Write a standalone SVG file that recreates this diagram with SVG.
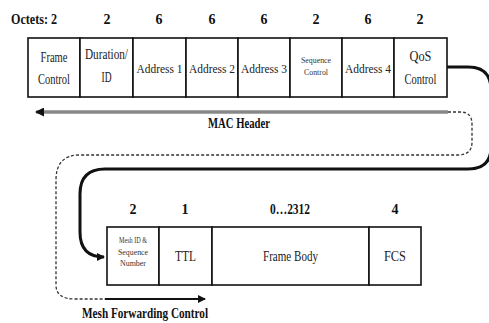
<svg xmlns="http://www.w3.org/2000/svg" width="489" height="323" viewBox="0 0 489 323">
<defs>
<style>
.box{fill:#fff;stroke:#111;stroke-width:1.6}
.t{font-family:"Liberation Serif",serif;font-size:15px;fill:#222;text-anchor:middle}
.a{font-family:"Liberation Serif",serif;font-size:13px;fill:#222;text-anchor:middle}
.s{font-family:"Liberation Serif",serif;font-size:8px;fill:#333;text-anchor:middle}
.b{font-family:"Liberation Serif",serif;font-size:14px;font-weight:bold;fill:#111;text-anchor:middle}
</style>
<marker id="ab" markerWidth="8" markerHeight="8" refX="7" refY="4" orient="auto" markerUnits="userSpaceOnUse"><path d="M0,0 L8,4 L0,8 Z" fill="#111"/></marker>
<marker id="ag" markerWidth="9" markerHeight="9" refX="8" refY="4.5" orient="auto" markerUnits="userSpaceOnUse"><path d="M0,0 L9,4.5 L0,9 Z" fill="#111"/></marker>
</defs>
<rect width="489" height="323" fill="#fff"/>

<g id="octets">
<text class="b" x="34" y="24" textLength="46" lengthAdjust="spacingAndGlyphs">Octets: 2</text>
<text class="b" x="107" y="24">2</text>
<text class="b" x="159" y="24">6</text>
<text class="b" x="212" y="24">6</text>
<text class="b" x="264" y="24">6</text>
<text class="b" x="316" y="24">2</text>
<text class="b" x="368" y="24">6</text>
<text class="b" x="420" y="24">2</text>
</g>

<g id="frame-control"><rect class="box" x="28" y="38" width="52" height="59"/><text class="t" x="54" y="62" textLength="27" lengthAdjust="spacingAndGlyphs">Frame</text><text class="t" x="54" y="84" textLength="32" lengthAdjust="spacingAndGlyphs">Control</text></g>
<g id="duration"><rect class="box" x="80" y="38" width="53" height="59"/><text class="t" x="106.5" y="59" textLength="43" lengthAdjust="spacingAndGlyphs">Duration/</text><text class="t" x="106.5" y="82" textLength="10" lengthAdjust="spacingAndGlyphs">ID</text></g>
<g id="address1"><rect class="box" x="133" y="38" width="53" height="59"/><text class="a" x="159.5" y="73" textLength="46" lengthAdjust="spacingAndGlyphs">Address 1</text></g>
<g id="address2"><rect class="box" x="186" y="38" width="52" height="59"/><text class="a" x="212" y="73" textLength="46" lengthAdjust="spacingAndGlyphs">Address 2</text></g>
<g id="address3"><rect class="box" x="238" y="38" width="52" height="59"/><text class="a" x="264" y="73" textLength="46" lengthAdjust="spacingAndGlyphs">Address 3</text></g>
<g id="sequence-control"><rect class="box" x="290" y="38" width="52" height="59"/><text class="s" x="316" y="63" textLength="30" lengthAdjust="spacingAndGlyphs">Sequence</text><text class="s" x="316" y="75" textLength="24" lengthAdjust="spacingAndGlyphs">Control</text></g>
<g id="address4"><rect class="box" x="342" y="38" width="52" height="59"/><text class="a" x="368" y="73" textLength="46" lengthAdjust="spacingAndGlyphs">Address 4</text></g>
<g id="qos-control"><rect class="box" x="394" y="38" width="53" height="59"/><text class="t" x="420.5" y="61" textLength="22" lengthAdjust="spacingAndGlyphs">QoS</text><text class="t" x="420.5" y="84" textLength="32" lengthAdjust="spacingAndGlyphs">Control</text></g>

<g id="lower-octets">
<text class="b" x="133" y="214">2</text>
<text class="b" x="185" y="214">1</text>
<text class="b" x="290" y="214" textLength="40" lengthAdjust="spacingAndGlyphs">0…2312</text>
<text class="b" x="395" y="214">4</text>
</g>

<g id="mesh-seq"><rect class="box" x="107" y="227" width="52" height="58"/><text class="s" x="133" y="243" textLength="28" lengthAdjust="spacingAndGlyphs">Mesh ID &amp;</text><text class="s" x="133" y="255" textLength="30" lengthAdjust="spacingAndGlyphs">Sequence</text><text class="s" x="133" y="266" textLength="26" lengthAdjust="spacingAndGlyphs">Number</text></g>
<g id="ttl"><rect class="box" x="159" y="227" width="53" height="58"/><text class="t" x="185.5" y="261" textLength="21" lengthAdjust="spacingAndGlyphs">TTL</text></g>
<g id="frame-body"><rect class="box" x="212" y="227" width="157" height="58"/><text class="t" x="290.5" y="261" textLength="55" lengthAdjust="spacingAndGlyphs">Frame Body</text></g>
<g id="fcs"><rect class="box" x="369" y="227" width="52" height="58"/><text class="t" x="395" y="261" textLength="22" lengthAdjust="spacingAndGlyphs">FCS</text></g>

<g id="connectors" fill="none">
<path d="M447,67 H468 Q491,67 491,90 V147 Q491,169 468,169 H105 Q80,169 80,194 V232 Q80,257 104,257" stroke="#111" stroke-width="3" marker-end="url(#ab)"/>
<path d="M448,112 H36" stroke="#888" stroke-width="3.5" marker-end="url(#ag)"/>
<path d="M448,112 H460 Q472,112 472,124 V142 Q472,155 458,155 H80 Q56,155 56,180 V285 Q56,299 75,299 H105" stroke="#333" stroke-width="1.3" stroke-dasharray="3,2"/>
<path d="M105,299 H205" stroke="#111" stroke-width="2" marker-end="url(#ab)"/>
</g>

<g id="labels">
<text class="b" x="239" y="128" textLength="62" lengthAdjust="spacingAndGlyphs">MAC Header</text>
<text class="b" x="145" y="318" textLength="126" lengthAdjust="spacingAndGlyphs">Mesh Forwarding Control</text>
</g>
</svg>
